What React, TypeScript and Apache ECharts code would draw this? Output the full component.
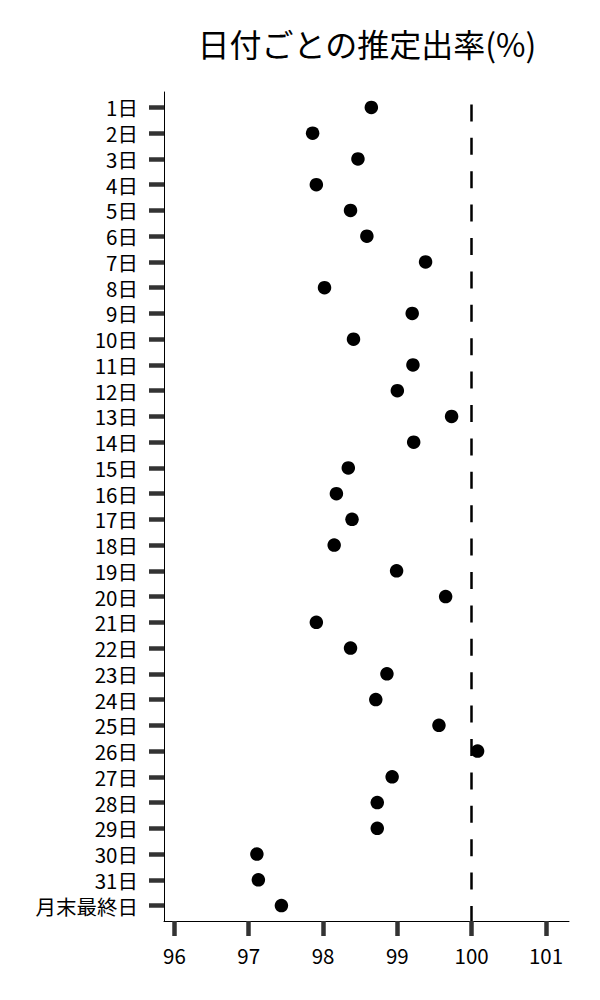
import React, { useEffect, useRef } from "react";
import * as echarts from "echarts";

const TITLE = "日付ごとの推定出率(%)";

const categories: string[] = [
  "1日", "2日", "3日", "4日", "5日", "6日", "7日", "8日", "9日", "10日",
  "11日", "12日", "13日", "14日", "15日", "16日", "17日", "18日", "19日", "20日",
  "21日", "22日", "23日", "24日", "25日", "26日", "27日", "28日", "29日", "30日",
  "31日", "月末最終日",
];

const rates: number[] = [
  98.65, 97.86, 98.47, 97.91, 98.37, 98.59, 99.38, 98.02, 99.2, 98.41,
  99.21, 99.0, 99.73, 99.22, 98.34, 98.18, 98.39, 98.15, 98.99, 99.65,
  97.91, 98.37, 98.86, 98.71, 99.56, 100.08, 98.93, 98.73, 98.73, 97.11,
  97.13, 97.44,
];

const xTicks: number[] = [96, 97, 98, 99, 100, 101];
const referenceValue = 100;

const FONT = "'Noto Sans CJK JP', 'Noto Sans', sans-serif";

export default function App() {
  const ref = useRef<HTMLDivElement>(null);

  useEffect(() => {
    document.body.style.margin = "0";
    if (!ref.current) return;
    const chart = echarts.init(ref.current, null, { renderer: "svg" });
    const yIdx = categories.map((_, i) => i);
    chart.setOption({
      animation: false,
      backgroundColor: "#ffffff",
      graphic: [
        {
          type: "text",
          x: 367,
          y: 43,
          style: {
            text: TITLE,
            fontSize: 32,
            fontFamily: FONT,
            fill: "#000000",
            align: "center",
            verticalAlign: "middle",
          },
        },
      ],
      grid: { left: 164, right: 31, top: 92, bottom: 79 },
      xAxis: {
        type: "value",
        position: "bottom",
        min: 95.86,
        max: 101.31,
        splitLine: { show: false },
        axisLine: { show: true, onZero: false, lineStyle: { color: "#000000", width: 1 } },
        axisTick: {
          show: true,
          customValues: xTicks,
          length: 15,
          lineStyle: { color: "#333333", width: 4.5 },
        },
        axisLabel: {
          customValues: xTicks,
          margin: 24,
          fontSize: 20.5,
          fontFamily: FONT,
          color: "#000000",
        },
      },
      yAxis: {
        type: "value",
        position: "left",
        inverse: true,
        min: -0.6,
        max: categories.length - 1 + 0.6,
        splitLine: { show: false },
        axisLine: { show: true, onZero: false, lineStyle: { color: "#000000", width: 1 } },
        axisTick: {
          show: true,
          customValues: yIdx,
          length: 15,
          lineStyle: { color: "#333333", width: 4.5 },
        },
        axisLabel: {
          customValues: yIdx,
          margin: 26,
          fontSize: 20.5,
          lineHeight: 22,
          fontFamily: FONT,
          color: "#000000",
          formatter: (v: number) => categories[Math.round(v)] ?? "",
        },
      },
      series: [
        {
          type: "scatter",
          symbol: "circle",
          symbolSize: 13.5,
          itemStyle: { color: "#000000", opacity: 1 },
          data: rates.map((v, i) => [v, i]),
          markLine: {
            silent: true,
            symbol: "none",
            label: { show: false },
            lineStyle: {
              color: "#000000",
              width: 2.5,
              type: [17, 16.4],
              dashOffset: 21.4,
            },
            data: [{ xAxis: referenceValue }],
          },
        },
      ],
    });
    return () => chart.dispose();
  }, []);

  return <div ref={ref} style={{ width: 600, height: 1000 }} />;
}
